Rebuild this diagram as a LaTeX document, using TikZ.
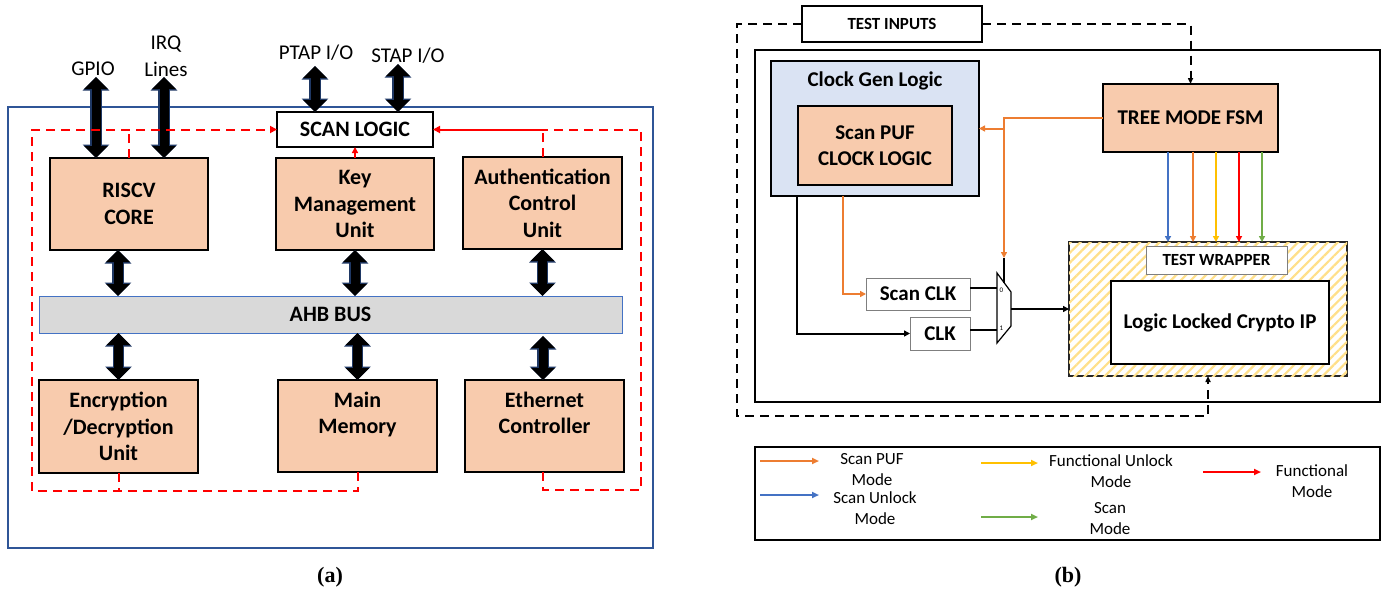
\documentclass[tikz,border=0pt]{standalone}
\usepackage{fontspec}
\setsansfont{Carlito}
\newfontfamily\capfont{Liberation Serif}
\usetikzlibrary{arrows.meta,patterns.meta}
\definecolor{peach}{HTML}{F8CBAD}
\definecolor{frameblue}{HTML}{2F5597}
\definecolor{busgray}{HTML}{D9D9D9}
\definecolor{busblue}{HTML}{4472C4}
\definecolor{navy}{HTML}{1F3864}
\definecolor{clkblue}{HTML}{DAE3F3}
\definecolor{mblue}{HTML}{4472C4}
\definecolor{morange}{HTML}{ED7D31}
\definecolor{myellow}{HTML}{FFC000}
\definecolor{mred}{HTML}{FF0000}
\definecolor{mgreen}{HTML}{70AD47}
\definecolor{hatch}{HTML}{FFE08A}
\definecolor{thingray}{HTML}{7F7F7F}

\begin{document}
\begin{tikzpicture}[x=1pt,y=-1pt,
  every node/.style={inner sep=0pt, outer sep=0pt},
  wh/.style n args={2}{minimum width=#1, minimum height=#2},
  bigfont/.style={font=\sffamily\bfseries\fontsize{22}{26.5}\selectfont},
  midfont/.style={font=\sffamily\bfseries\fontsize{21}{25.5}\selectfont},
  smallbold/.style={font=\sffamily\bfseries\fontsize{17}{20}\selectfont},
  unit/.style={draw=black, line width=2.5pt, fill=peach, align=center, bigfont},
  unitb/.style={draw=black, line width=2.5pt, fill=peach, align=center, midfont},
  plain/.style={draw=black, line width=2pt, fill=white, bigfont},
  busbox/.style={draw=busblue, line width=1pt, fill=busgray, bigfont},
  thinbox/.style={draw=thingray, line width=1pt, fill=white, midfont},
  lbl/.style={align=center, font=\sffamily\fontsize{21}{27}\selectfont},
  legtext/.style={align=center, font=\sffamily\fontsize{17}{21}\selectfont},
  caption/.style={font=\capfont\bfseries\fontsize{22}{24}\selectfont},
  dbl/.style={line width=9pt,
    {Triangle[length=12pt,width=23pt]}-{Triangle[length=12pt,width=23pt]},
    preaction={draw=navy, line width=11.5pt,
      {Triangle[length=13.5pt,width=26pt]}-{Triangle[length=13.5pt,width=26pt]}}},
  rdash/.style={draw=mred, line width=2pt, dash pattern=on 9pt off 6pt},
  rsolid/.style={draw=mred, line width=2pt},
  rtip/.style={-{Triangle[length=7pt,width=7pt]}},
  bdash/.style={draw=black, line width=2pt, dash pattern=on 9pt off 6pt},
  kline/.style={draw=black, line width=2pt},
  oline/.style={draw=morange, line width=2pt},
  stip/.style={-{Triangle[length=6pt,width=6pt]}},
  legarrow/.style={line width=2pt, -{Triangle[length=7pt,width=6pt]}}
]
\fill[white] (0,0) rectangle (1384,590);
\useasboundingbox (0,0) rectangle (1384,590);

% ---------------- SoC block diagram ----------------
\node[draw=frameblue, line width=2pt, wh={645pt}{441pt}] (soc) at (330.5,327.5) {};

\node[unit, wh={158pt}{92pt}] (riscv) at (129,204) {RISCV\\CORE};
\node[unit, wh={158pt}{92pt}] (kmu) at (355,204) {Key\\Management\\Unit};
\node[unit, wh={159pt}{92pt}] (acu) at (542.5,203) {Authentication\\Control\\Unit};
\node[plain, wh={156pt}{35pt}] (scan) at (355,129.5) {SCAN LOGIC};
\node[busbox, wh={583pt}{37pt}] (bus) at (330.5,314.5) {AHB BUS};
\node[unit, wh={159pt}{93pt}] (enc) at (118.5,426.5) {Encryption\\/Decryption\\Unit};
\node[unit, wh={159pt}{92pt}] (mem) at (357.5,426) {Main\\Memory\\\mbox{}};
\node[unit, wh={159pt}{92pt}] (eth) at (544.5,426) {Ethernet\\Controller\\\mbox{}};

\node[lbl] (gpio) at (93,69) {GPIO};
\node[lbl] (irq) at (166,56) {IRQ\\Lines};
\node[lbl] (ptap) at (316,53) {PTAP I/O};
\node[lbl] (stap) at (408,56) {STAP I/O};

% external and bus ports
\coordinate (gpioT) at (96,77);
\coordinate (irqT) at (164,77);
\coordinate (ptapT) at (315,66);
\coordinate (stapT) at (398,64);
\draw[dbl] (gpioT) -- (gpioT |- riscv.north);
\draw[dbl] (irqT) -- (irqT |- riscv.north);
\draw[dbl] (ptapT) -- (ptapT |- scan.north);
\draw[dbl] (stapT) -- (stapT |- scan.north);
\draw[dbl] ([xshift=-11pt]riscv.south) -- ([xshift=-11pt]riscv.south |- bus.north);
\draw[dbl] (kmu.south) -- (kmu.south |- bus.north);
\draw[dbl] (acu.south) -- (acu.south |- bus.north);
\draw[dbl] (enc.north |- bus.south) -- (enc.north);
\draw[dbl] (mem.north |- bus.south) -- (mem.north);
\draw[dbl] ([xshift=-1.5pt,yshift=-3pt]eth.north |- bus.south) -- ([xshift=-1.5pt]eth.north);

% scan chain routing
\coordinate (lpL) at (32,491);
\coordinate (lpR) at (641,490);
\draw[rdash, rtip] (mem.south) |- (lpL) |- (scan.west);
\draw[rdash] (enc.south) -- (enc.south |- lpL);
\draw[rdash] (riscv.north) -- (riscv.north |- scan.west);
\draw[rdash] ([xshift=-1.5pt]eth.south) |- (lpR) |- (acu.north |- scan.east);
\draw[rdash] (acu.north) -- (acu.north |- scan.east);
\draw[rsolid, rtip] (acu.north |- scan.east) -- (scan.east);
\draw[rsolid, -{Triangle[length=6pt,width=6pt]}] (kmu.north) -- (scan.south);

\node[caption] (capa) at (330,577) {(a)};

% ---------------- Test architecture ----------------
\node[draw=black, line width=2.5pt, wh={625pt}{352pt}] (chip) at (1067.5,226) {};
\node[draw=black, line width=2pt, fill=white, smallbold, wh={180pt}{36pt}] (tin) at (892,24) {TEST INPUTS};
\node[draw=black, line width=2.5pt, fill=clkblue, wh={208pt}{135pt}] (cgl) at (875,128.5) {};
\node[midfont] (cgltitle) at (875,81) {Clock Gen Logic};
\node[unitb, wh={154pt}{79pt}] (puf) at (875,145.5) {Scan PUF\\CLOCK LOGIC};
\node[unitb, wh={175pt}{68pt}] (fsm) at (1190.5,118) {TREE MODE FSM};
\node[thinbox, wh={104pt}{32pt}] (sclk) at (918,294) {Scan CLK};
\node[thinbox, wh={60pt}{33pt}] (clk) at (940,333.5) {CLK};

\node[draw=black!85, line width=2pt, fill=white,
      postaction={pattern={Lines[angle=45,distance=7pt,line width=2.2pt]}, pattern color=hatch},
      wh={278pt}{134pt}] (wrap) at (1208,309) {};
\node[draw=thingray, line width=1pt, fill=white, smallbold, wh={141pt}{28pt}] (tw) at (1216.5,260) {TEST WRAPPER};
\node[draw=black, line width=2.5pt, fill=white, midfont, wh={218pt}{83pt}] (llc) at (1220,322.5) {Logic Locked Crypto IP};

% clock multiplexer
\coordinate (mux0) at (997,288);
\coordinate (mux1) at (997,330);
\coordinate (muxs) at (1004,282.5);
\coordinate (muxo) at (1011,309);
\draw[line width=1.2pt, fill=white] (997,273) -- (1011,292) -- (1011,326) -- (997,343) -- cycle;
\node[font=\sffamily\fontsize{7}{7}\selectfont] (msel0) at (1001.5,290) {0};
\node[font=\sffamily\fontsize{7}{7}\selectfont] (msel1) at (1001.5,328) {1};

% test input routing
\coordinate (tl) at (737,416);
\draw[bdash, -{Triangle[length=6pt,width=5pt]}] (tin.west) -| (tl) -| (wrap.south);
\draw[bdash, -{Triangle[length=6pt,width=5pt]}] (tin.east) -| (fsm.north);

% scan PUF mode control
\coordinate (obr) at (1004,258);
\draw[oline, stip] (fsm.west) -| (obr);
\draw[kline] (obr) -- (muxs);
\draw[oline, stip] (obr |- cgl.east) -- (cgl.east);

% clock paths
\draw[oline, stip] ([xshift=-32pt]cgl.south) |- (sclk.west);
\draw[kline, stip] ([xshift=-78pt]cgl.south) |- (clk.west);
\draw[kline] ([yshift=6pt]sclk.east) -- (mux0);
\draw[kline] ([yshift=3.5pt]clk.east) -- (mux1);
\draw[kline, stip] (muxo) -- (wrap.west);

% mode signals
\foreach \xx/\cc in {1168/mblue,1193/morange,1216/myellow,1239/mred,1262/mgreen}
  \draw[draw=\cc, line width=2pt, -{Triangle[length=6pt,width=6pt]}] (fsm.south -| \xx,0) -- (wrap.north -| \xx,0);

% legend
\node[draw=black, line width=2pt, wh={625pt}{93pt}] (leg) at (1067.5,493.5) {};
\draw[legarrow, morange] (760,461) -- (819,461);
\draw[legarrow, mblue] (760,495) -- (819,495);
\draw[legarrow, myellow] (981,463) -- (1038,463);
\draw[legarrow, mgreen] (981,517) -- (1038,517);
\draw[legarrow, mred] (1203,472) -- (1261,472);
\node[legtext] (lg1) at (872,469.5) {Scan PUF\\Mode};
\node[legtext] (lg2) at (875,508.5) {Scan Unlock\\Mode};
\node[legtext] (lg3) at (1111,471.5) {Functional Unlock\\Mode};
\node[legtext] (lg4) at (1110,519) {Scan\\Mode};
\node[legtext] (lg5) at (1312,481.5) {Functional\\Mode};

\node[caption] (capb) at (1068,577) {(b)};
\end{tikzpicture}
\end{document}
